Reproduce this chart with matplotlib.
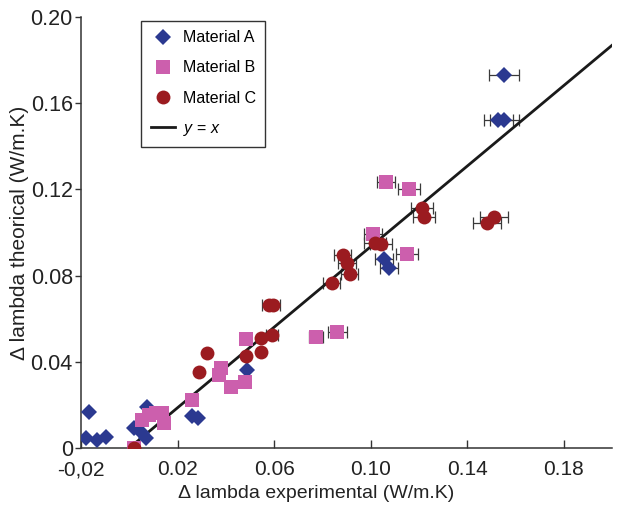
import matplotlib
matplotlib.use("Agg")
import matplotlib.pyplot as plt
import numpy as np

plt.rcParams["font.family"] = ["Liberation Sans", "DejaVu Sans"]
plt.rcParams["mathtext.fontset"] = "custom"
plt.rcParams["mathtext.rm"] = "Liberation Sans"
plt.rcParams["mathtext.it"] = "Liberation Sans:italic"

# ── DATA ─────────────────────────────────────────────────────────
mat_a_x = [-0.0166, -0.0178, -0.0133, -0.0096, 0.0073, 0.0019, 0.0068, 0.0052,
           0.0258, 0.0286, 0.0488, 0.1055, 0.1076, 0.1553, 0.1528, 0.1553]
mat_a_y = [0.0167, 0.0047, 0.0037, 0.0051, 0.0191, 0.0093, 0.0047, 0.0070,
           0.0149, 0.0140, 0.0363, 0.0879, 0.0837, 0.1730, 0.1521, 0.1521]
mat_a_err = [0, 0, 0, 0, 0, 0, 0, 0,
             0, 0, 0, 0.0036, 0.0036, 0.0062, 0.0060, 0.0060]

mat_b_x = [0.0019, 0.0052, 0.0081, 0.0110, 0.0134, 0.0142, 0.0258, 0.0381,
           0.0373, 0.0422, 0.0480, 0.0484, 0.0772, 0.0862, 0.1010, 0.1064,
           0.1158, 0.1150]
mat_b_y = [0.0, 0.0130, 0.0153, 0.0163, 0.0163, 0.0116, 0.0223, 0.0372,
           0.0339, 0.0284, 0.0307, 0.0507, 0.0516, 0.0539, 0.0995, 0.1237,
           0.1204, 0.0902]
mat_b_err = [0, 0, 0, 0, 0, 0, 0, 0,
             0, 0, 0, 0, 0.0029, 0.0040, 0.0037, 0.0037,
             0.0045, 0.0045]

mat_c_x = [0.0019, 0.0290, 0.0323, 0.0484, 0.0545, 0.0545, 0.0591, 0.0577,
           0.0597, 0.0838, 0.0883, 0.0903, 0.0912, 0.1018, 0.1043, 0.1212,
           0.1220, 0.1512, 0.1483]
mat_c_y = [0.0, 0.0353, 0.0442, 0.0428, 0.0512, 0.0446, 0.0525, 0.0665,
           0.0665, 0.0767, 0.0897, 0.0860, 0.0809, 0.0953, 0.0949, 0.1116,
           0.1070, 0.1074, 0.1046]
mat_c_err = [0, 0, 0, 0, 0, 0, 0.0024, 0.0026,
             0.0026, 0.0035, 0.0036, 0.0037, 0.0037, 0.0045, 0.0045, 0.0047,
             0.0047, 0.0058, 0.0058]

# reference line as drawn across the frame
line_x = [0.0, 0.200]
line_y = [0.0, 0.187]

x_ticks = [-0.02, 0.02, 0.06, 0.10, 0.14, 0.18]
x_tick_labels = ["-0,02", "0.02", "0.06", "0.10", "0.14", "0.18"]
y_ticks = [0.0, 0.04, 0.08, 0.12, 0.16, 0.20]
y_tick_labels = ["0", "0.04", "0.08", "0.12", "0.16", "0.20"]

series = [
    ("Material A", mat_a_x, mat_a_y, mat_a_err, "D", 8.5, "#2b3990"),
    ("Material B", mat_b_x, mat_b_y, mat_b_err, "s", 9.5, "#cc5fad"),
    ("Material C", mat_c_x, mat_c_y, mat_c_err, "o", 10, "#9b1b20"),
]

# ── PLOT ─────────────────────────────────────────────────────────
fig = plt.figure(figsize=(6.19, 5.05), dpi=100)
ax = fig.add_axes([0.131, 0.113, 0.858, 0.853])

handles = []
for name, xs, ys, errs, mk, ms, col in series:
    xs, ys, errs = np.array(xs), np.array(ys), np.array(errs)
    has_err = errs > 0
    ax.errorbar(xs[has_err], ys[has_err], xerr=errs[has_err], fmt="none",
                ecolor="#3a3a3a", elinewidth=0.9, capsize=4.5, capthick=0.9,
                zorder=2)
    h, = ax.plot(xs, ys, linestyle="none", marker=mk, markersize=ms,
                 color=col, markeredgewidth=0, label=name, zorder=3)
    handles.append(h)

ln, = ax.plot(line_x, line_y, color="#1a1a1a", linewidth=2.0,
              label="$y$ = $x$", zorder=2.5)
handles.append(ln)

ax.set_xlim(-0.02, 0.20)
ax.set_ylim(0.0, 0.20)
ax.set_xticks(x_ticks)
ax.set_xticklabels(x_tick_labels)
ax.set_yticks(y_ticks)
ax.set_yticklabels(y_tick_labels)

for side in ["top", "right"]:
    ax.spines[side].set_visible(False)
for side in ["left", "bottom"]:
    ax.spines[side].set_color("#333333")
    ax.spines[side].set_linewidth(1.1)

ax.tick_params(axis="x", direction="in", length=6, width=1.0,
               colors="#333333", labelcolor="#222222", labelsize=15, pad=9)
ax.tick_params(axis="y", direction="out", length=4, width=1.0,
               colors="#333333", labelcolor="#222222", labelsize=15.5, pad=2)

ax.set_xlabel("Δ lambda experimental (W/m.K)", fontsize=14, color="#222222")
ax.xaxis.set_label_coords(0.443, -0.087)
ax.set_ylabel("Δ lambda theorical (W/m.K)", fontsize=15, color="#222222",
              labelpad=1)

leg = ax.legend(handles=handles, loc="upper left", bbox_to_anchor=(0.113, 0.992),
                borderaxespad=0, fontsize=11.5, frameon=True, fancybox=False,
                edgecolor="#333333", framealpha=1, labelspacing=0.95,
                handlelength=1.5, handletextpad=0.5, borderpad=0.6)
leg.get_frame().set_linewidth(1.0)

fig.savefig("out.png", dpi=100)
